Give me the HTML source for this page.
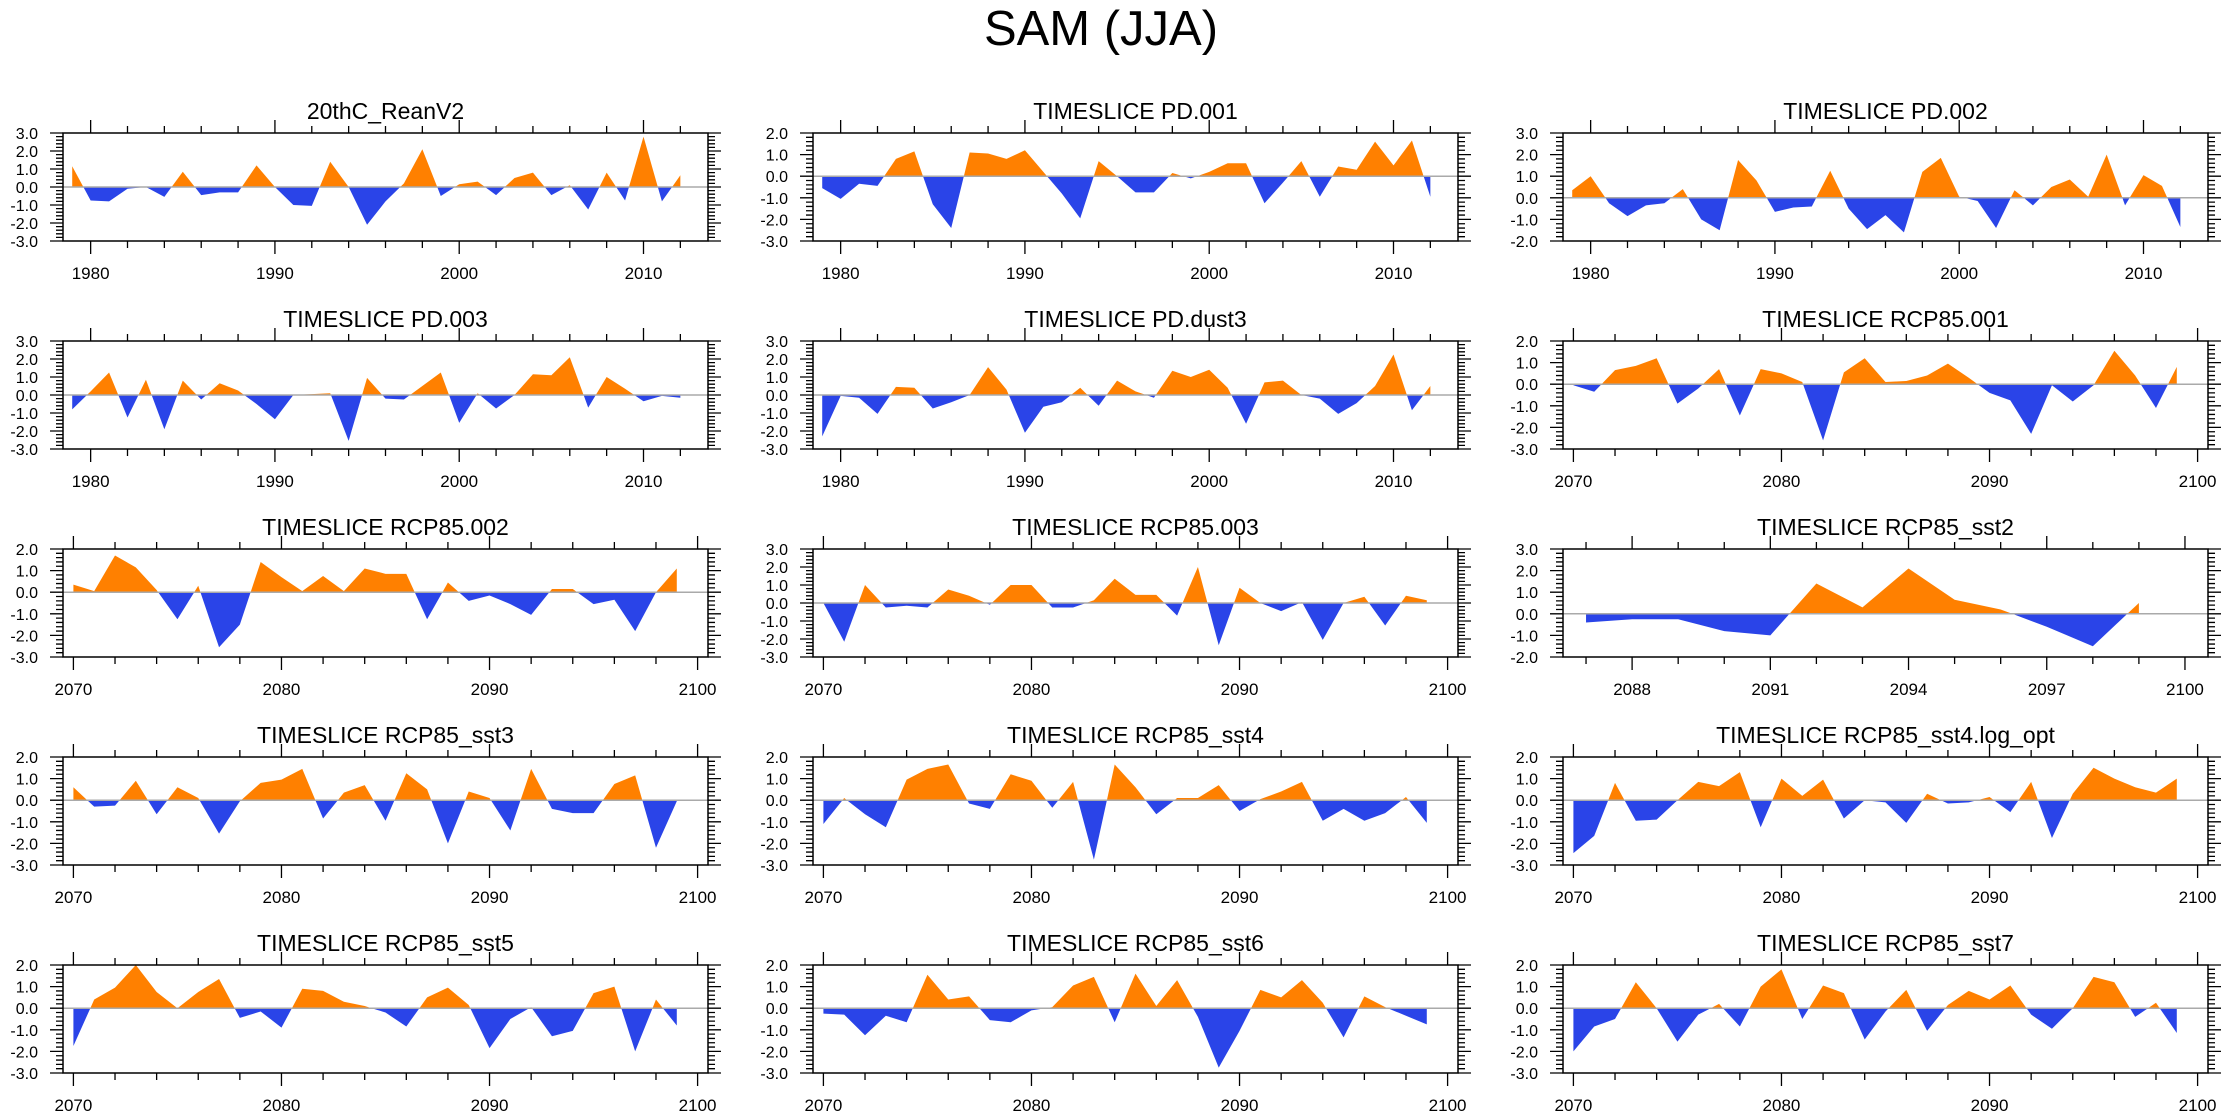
<!DOCTYPE html>
<html><head><meta charset="utf-8"><title>SAM (JJA)</title>
<style>html,body{margin:0;padding:0;background:#fff;}svg{display:block;}text{font-family:"Liberation Sans",Arial,sans-serif;fill:#000;}</style>
</head><body>
<svg id="chart" width="2230" height="1120" viewBox="0 0 2230 1120" xmlns="http://www.w3.org/2000/svg">
<text x="1101" y="45" font-size="49" text-anchor="middle">SAM (JJA)</text>
</svg>
<script>
const panelTitles = ["20thC_ReanV2","TIMESLICE PD.001","TIMESLICE PD.002","TIMESLICE PD.003","TIMESLICE PD.dust3","TIMESLICE RCP85.001","TIMESLICE RCP85.002","TIMESLICE RCP85.003","TIMESLICE RCP85_sst2","TIMESLICE RCP85_sst3","TIMESLICE RCP85_sst4","TIMESLICE RCP85_sst4.log_opt","TIMESLICE RCP85_sst5","TIMESLICE RCP85_sst6","TIMESLICE RCP85_sst7"];
const startYears = [1979,1979,1979,1979,1979,2070,2070,2070,2087,2070,2070,2070,2070,2070,2070];
const yMins = [-3,-3,-2,-3,-3,-3,-3,-3,-2,-3,-3,-3,-3,-3,-3];
const yMaxs = [3,2,3,3,3,2,2,3,3,2,2,2,2,2,2];
const xMins = [1978.5,1978.5,1978.5,1978.5,1978.5,2069.5,2069.5,2069.5,2086.5,2069.5,2069.5,2069.5,2069.5,2069.5,2069.5];
const xMaxs = [2013.5,2013.5,2013.5,2013.5,2013.5,2100.5,2100.5,2100.5,2100.5,2100.5,2100.5,2100.5,2100.5,2100.5,2100.5];
const xMajorTicks = [[1980,1990,2000,2010],[1980,1990,2000,2010],[1980,1990,2000,2010],[1980,1990,2000,2010],[1980,1990,2000,2010],[2070,2080,2090,2100],[2070,2080,2090,2100],[2070,2080,2090,2100],[2088,2091,2094,2097,2100],[2070,2080,2090,2100],[2070,2080,2090,2100],[2070,2080,2090,2100],[2070,2080,2090,2100],[2070,2080,2090,2100],[2070,2080,2090,2100]];

const s20thC = [1.15,-0.75,-0.8,-0.1,0.0,-0.55,0.85,-0.45,-0.3,-0.3,1.2,0.0,-1.0,-1.05,1.4,0.0,-2.1,-0.8,0.2,2.1,-0.5,0.15,0.3,-0.45,0.5,0.8,-0.45,0.1,-1.25,0.8,-0.75,2.8,-0.8,0.65];
const sPD001 = [-0.55,-1.05,-0.35,-0.45,0.8,1.15,-1.3,-2.4,1.1,1.05,0.8,1.2,0.2,-0.8,-1.95,0.7,0.0,-0.75,-0.75,0.15,-0.1,0.2,0.6,0.6,-1.25,-0.3,0.7,-0.95,0.45,0.3,1.6,0.5,1.65,-0.95];
const sPD002 = [0.35,1.0,-0.25,-0.85,-0.35,-0.25,0.4,-1.0,-1.5,1.75,0.8,-0.65,-0.45,-0.4,1.25,-0.5,-1.45,-0.8,-1.6,1.2,1.85,0.05,-0.15,-1.4,0.35,-0.35,0.5,0.85,0.05,2.0,-0.35,1.05,0.55,-1.35];
const sPD003 = [-0.8,0.2,1.25,-1.25,0.85,-1.9,0.8,-0.25,0.65,0.25,-0.5,-1.35,0.0,0.05,0.1,-2.55,0.95,-0.2,-0.25,0.5,1.25,-1.55,0.1,-0.75,0.0,1.15,1.1,2.1,-0.7,1.0,0.35,-0.35,-0.05,-0.15];
const sPDdust3 = [-2.3,-0.05,-0.15,-1.05,0.45,0.4,-0.75,-0.4,0.0,1.55,0.3,-2.1,-0.65,-0.4,0.4,-0.6,0.8,0.2,-0.15,1.35,1.0,1.4,0.4,-1.6,0.7,0.8,0.0,-0.2,-1.05,-0.45,0.5,2.25,-0.85,0.5];
const sRCP001 = [-0.05,-0.35,0.65,0.85,1.2,-0.9,-0.2,0.7,-1.45,0.7,0.5,0.1,-2.6,0.55,1.2,0.1,0.15,0.4,0.95,0.3,-0.4,-0.75,-2.3,-0.05,-0.8,-0.05,1.55,0.4,-1.1,0.8];
const sRCP002 = [0.35,0.05,1.7,1.15,0.1,-1.25,0.3,-2.55,-1.5,1.4,0.7,0.05,0.75,0.05,1.1,0.85,0.85,-1.25,0.45,-0.4,-0.15,-0.55,-1.05,0.15,0.15,-0.55,-0.35,-1.8,0.0,1.1];
const sRCP003 = [0.0,-2.15,1.0,-0.25,-0.15,-0.25,0.75,0.4,-0.1,1.0,1.0,-0.25,-0.25,0.15,1.35,0.45,0.45,-0.7,2.0,-2.35,0.85,0.0,-0.45,0.05,-2.05,0.0,0.35,-1.25,0.4,0.15];
const sSst2 = [-0.4,-0.25,-0.25,-0.8,-1.0,1.4,0.3,2.1,0.65,0.2,-0.6,-1.5,0.5];
const sSst3 = [0.6,-0.3,-0.25,0.9,-0.65,0.6,0.1,-1.55,-0.05,0.8,0.95,1.45,-0.85,0.35,0.7,-0.95,1.25,0.5,-2.0,0.4,0.1,-1.4,1.45,-0.4,-0.6,-0.6,0.75,1.15,-2.2,-0.05];
const sSst4 = [-1.1,0.1,-0.65,-1.25,0.95,1.45,1.65,-0.15,-0.4,1.2,0.9,-0.35,0.85,-2.75,1.65,0.6,-0.65,0.1,0.1,0.7,-0.5,0.05,0.4,0.85,-0.95,-0.4,-0.95,-0.6,0.15,-1.05];
const sSst4log = [-2.45,-1.65,0.8,-0.95,-0.9,0.0,0.85,0.65,1.3,-1.25,1.0,0.2,0.95,-0.85,0.0,-0.1,-1.05,0.3,-0.15,-0.1,0.15,-0.55,0.85,-1.75,0.3,1.5,1.0,0.6,0.35,1.0];
const sSst5 = [-1.75,0.4,0.95,2.0,0.75,0.0,0.75,1.35,-0.45,-0.15,-0.9,0.9,0.8,0.3,0.1,-0.2,-0.85,0.5,0.95,0.15,-1.85,-0.5,0.05,-1.3,-1.05,0.7,1.0,-2.0,0.4,-0.8];
const sSst6 = [-0.25,-0.3,-1.25,-0.35,-0.65,1.55,0.4,0.55,-0.55,-0.65,-0.1,0.05,1.05,1.45,-0.65,1.6,0.1,1.3,-0.4,-2.75,-1.05,0.85,0.5,1.3,0.25,-1.35,0.55,0.05,-0.35,-0.75];
const sSst7 = [-2.0,-0.85,-0.5,1.2,0.0,-1.55,-0.3,0.2,-0.85,1.0,1.8,-0.5,1.05,0.7,-1.45,-0.15,0.85,-1.05,0.15,0.8,0.4,1.05,-0.3,-0.95,0.0,1.45,1.2,-0.4,0.25,-1.15];
const seriesList = [s20thC,sPD001,sPD002,sPD003,sPDdust3,sRCP001,sRCP002,sRCP003,sSst2,sSst3,sSst4,sSst4log,sSst5,sSst6,sSst7];

const NS = "http://www.w3.org/2000/svg";
const svg = document.getElementById("chart");
const colLefts = [63, 813, 1563];
const rowTops = [133, 341, 549, 757, 965];
const PW = 645, PH = 108;
function mk(tag, attrs, parent) {
  const e = document.createElementNS(NS, tag);
  for (const k in attrs) e.setAttribute(k, attrs[k]);
  parent.appendChild(e);
  return e;
}
function slug(s){return s.toLowerCase().replace(/[^a-z0-9]+/g,'-').replace(/^-|-$/g,'');}

panelTitles.forEach((title, i) => {
  const L = colLefts[i % 3], T = rowTops[Math.floor(i / 3)];
  const x0 = xMins[i], x1 = xMaxs[i], y0 = yMins[i], y1 = yMaxs[i];
  const X = v => L + (v - x0) / (x1 - x0) * PW;
  const Y = v => T + PH - (v - y0) / (y1 - y0) * PH;
  const g = mk("g", {}, svg);
  
  

  const data = seriesList[i];
  const pts = data.map((v, k) => [startYears[i] + k, v]);
  function buildArea(sign) {
    let d = "";
    let seg = [];
    const flush = () => {
      if (seg.length > 1) {
        d += "M" + X(seg[0][0]) + "," + Y(0);
        seg.forEach(p => d += "L" + X(p[0]) + "," + Y(p[1]));
        d += "L" + X(seg[seg.length - 1][0]) + "," + Y(0) + "Z";
      }
      seg = [];
    };
    for (let k = 0; k < pts.length; k++) {
      const [xa, va] = pts[k];
      const inA = sign > 0 ? va >= 0 : va <= 0;
      if (inA) seg.push([xa, va]);
      if (k < pts.length - 1) {
        const [xb, vb] = pts[k + 1];
        if ((va > 0 && vb < 0) || (va < 0 && vb > 0)) {
          const xc = xa + (0 - va) / (vb - va) * (xb - xa);
          if (inA) { seg.push([xc, 0]); flush(); }
          else { seg.push([xc, 0]); }
        }
      }
    }
    flush();
    return d;
  }
  const pos = mk("path", {d: buildArea(1), fill: "#ff8000", stroke: "none"}, g);
  
  
  const neg = mk("path", {d: buildArea(-1), fill: "#2a44e8", stroke: "none"}, g);
  
  
  const zl = mk("line", {x1: L, x2: L + PW, y1: Y(0), y2: Y(0), stroke: "#aaaaaa", "stroke-width": 1.5}, g);
  
  

  const fr = mk("rect", {x: L, y: T, width: PW, height: PH, fill: "none", stroke: "#000", "stroke-width": 1.5}, g);
  
  

  let td = "";
  for (let v = Math.round(y0 * 5); v <= Math.round(y1 * 5); v++) {
    const yy = Y(v / 5);
    const len = (v % 5 === 0) ? 13 : 7;
    td += "M" + (L - len) + "," + yy + "H" + L;
    td += "M" + (L + PW) + "," + yy + "H" + (L + PW + len);
  }
  const majors = xMajorTicks[i];
  const step = majors[1] - majors[0];
  const minorStep = step === 10 ? 2 : 1;
  for (let yr = Math.ceil(x0); yr <= Math.floor(x1); yr++) {
    const isMaj = majors.includes(yr);
    const isMin = (yr - majors[0]) % minorStep === 0;
    if (!isMaj && !isMin) continue;
    const len = isMaj ? 13 : 7;
    const xx = X(yr);
    td += "M" + xx + "," + (T - len) + "V" + T;
    td += "M" + xx + "," + (T + PH) + "V" + (T + PH + len);
  }
  const tp = mk("path", {d: td, stroke: "#000", "stroke-width": 1.3, fill: "none"}, g);
  
  

  for (let v = y0; v <= y1; v++) {
    const t = mk("text", {x: L - 25, y: Y(v) + 6, "font-size": 16, "text-anchor": "end"}, g);
    t.textContent = v.toFixed(1);
    
    
  }
  majors.forEach(m => {
    const t = mk("text", {x: X(m), y: T + PH + 38, "font-size": 17, "text-anchor": "middle"}, g);
    t.textContent = String(m);
    
    
  });
  const tt = mk("text", {x: L + PW / 2, y: T - 14, "font-size": 23, "text-anchor": "middle"}, g);
  tt.textContent = title;
  
  
});
</script>
</body></html>
